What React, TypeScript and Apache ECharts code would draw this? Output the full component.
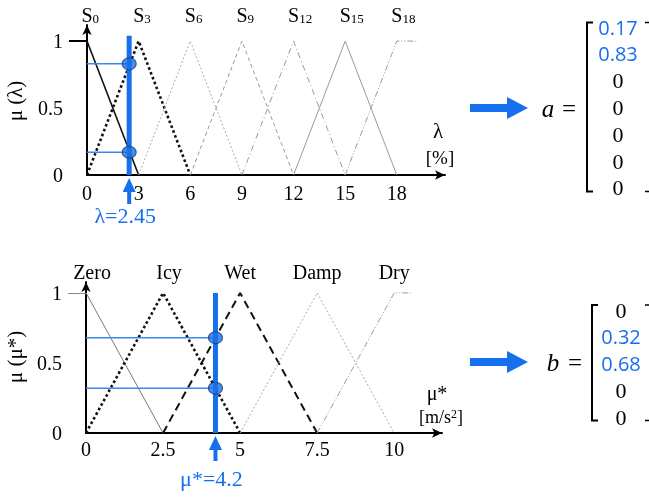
import React, { useEffect, useRef } from 'react';
import * as echarts from 'echarts';

// ---------- data: top chart (lambda) ----------
const lambdaSubscripts = ['0', '3', '6', '9', '12', '15', '18'];
const lambdaCenters = [0, 3, 6, 9, 12, 15, 18];
const lambdaTicks = [0, 3, 6, 9, 12, 15, 18];
const lambdaS0 = [[0, 1], [3, 0]];
const lambdaS3 = [[0, 0], [3, 1], [6, 0]];
const lambdaS6 = [[3, 0], [6, 1], [9, 0]];
const lambdaS9 = [[6, 0], [9, 1], [12, 0]];
const lambdaS12 = [[9, 0], [12, 1], [15, 0]];
const lambdaS15 = [[12, 0], [15, 1], [18, 0]];
const lambdaS18 = [[15, 0], [18, 1], [19.2, 1]];
const lambdaInput = 2.45;
const aVector = [0.17, 0.83, 0, 0, 0, 0, 0];
const aLabels = ['0.17', '0.83', '0', '0', '0', '0', '0'];

// ---------- data: bottom chart (mu*) ----------
const muNames = ['Zero', 'Icy', 'Wet', 'Damp', 'Dry'];
const muCenters = [0, 2.5, 5, 7.5, 10];
const muTicks = [0, 2.5, 5, 7.5, 10];
const muZero = [[0, 1], [2.5, 0]];
const muIcy = [[0, 0], [2.5, 1], [5, 0]];
const muWet = [[2.5, 0], [5, 1], [7.5, 0]];
const muDamp = [[5, 0], [7.5, 1], [10, 0]];
const muDry = [[7.5, 0], [10, 1], [10.55, 1]];
const muInput = 4.2;
const bVector = [0, 0.32, 0.68, 0, 0];
const bLabels = ['0', '0.32', '0.68', '0', '0'];

const yTicks = [0, 0.5, 1];

const BLUE = '#1670EE';
const LIGHTBLUE = '#3F86F0';
const SERIF = '"Liberation Serif", "Times New Roman", serif';
const SANS = '"Open Sans", "Noto Sans", sans-serif';

function memberLine(data: number[][], grid: number, color: string, width: number, type: any) {
  return {
    type: 'line',
    xAxisIndex: grid,
    yAxisIndex: grid,
    data,
    symbol: 'none',
    silent: true,
    clip: false,
    lineStyle: { color, width, type },
    z: 2,
  };
}

function blueSeries(grid: number, input: number, memberships: number[], top: number) {
  const out: any[] = [];
  memberships.forEach((v) => {
    if (v > 0) {
      out.push({
        type: 'line', xAxisIndex: grid, yAxisIndex: grid, symbol: 'none', silent: true,
        data: [[0, v], [input, v]], lineStyle: { color: LIGHTBLUE, width: 1.5 }, z: 3,
      });
    }
  });
  out.push({
    type: 'line', xAxisIndex: grid, yAxisIndex: grid, symbol: 'none', silent: true, clip: false,
    data: [[input, 0], [input, top]], lineStyle: { color: BLUE, width: 5 }, z: 4,
  });
  out.push({
    type: 'scatter', xAxisIndex: grid, yAxisIndex: grid, silent: true,
    data: memberships.filter((v) => v > 0).map((v) => [input, v]),
    symbol: 'circle', symbolSize: [14, 12],
    itemStyle: { color: '#1A6FE6', borderColor: '#173A70', borderWidth: 1 }, z: 5,
  });
  return out;
}

function xAxis(grid: number, max: number, ticks: number[], margin: number) {
  return {
    type: 'value', gridIndex: grid, min: 0, max,
    axisLine: { show: true, symbol: ['none', 'arrow'], symbolSize: [7, 10], lineStyle: { color: '#000', width: 2 } },
    axisTick: { show: false },
    splitLine: { show: false },
    axisLabel: { customValues: ticks, margin, color: '#000', fontFamily: SERIF, fontSize: 20 },
  };
}

function yAxis(grid: number, max: number, tickColor: string, tickWidth: number) {
  return {
    type: 'value', gridIndex: grid, min: 0, max,
    axisLine: { show: true, symbol: ['none', 'arrow'], symbolSize: [7, 10], lineStyle: { color: '#000', width: 2 } },
    axisTick: { show: true, customValues: [1], length: 18, lineStyle: { color: tickColor, width: tickWidth } },
    splitLine: { show: false },
    axisLabel: { customValues: yTicks, margin: 24, color: '#000', fontFamily: SERIF, fontSize: 20 },
  };
}

export default function App() {
  const ref = useRef<HTMLDivElement>(null);
  useEffect(() => {
    const chart = echarts.init(ref.current!, null, { renderer: 'svg' });
    chart.setOption({
      animation: false,
      grid: [
        { left: 87, top: 25, width: 358, height: 150 },
        { left: 86, top: 282, width: 356, height: 151 },
      ],
      xAxis: [xAxis(0, 20.8, lambdaTicks, 8), xAxis(1, 11.55, muTicks, 6)],
      yAxis: [yAxis(0, 1.12, '#000', 2), yAxis(1, 1.078, '#888', 1)],
      series: [
        memberLine(lambdaS0, 0, '#111', 1.6, 'solid'),
        memberLine(lambdaS3, 0, '#111', 2.6, [2.6, 2.6]),
        memberLine(lambdaS6, 0, '#AAA', 1, [2, 2]),
        memberLine(lambdaS9, 0, '#999', 1, [4, 3]),
        memberLine(lambdaS12, 0, '#999', 1, [6, 3, 1, 3]),
        memberLine(lambdaS15, 0, '#999', 1, 'solid'),
        memberLine(lambdaS18, 0, '#999', 1, [6, 2, 1, 2, 1, 2]),
        memberLine(muZero, 1, '#777', 1, 'solid'),
        memberLine(muIcy, 1, '#111', 2.6, [2.6, 2.6]),
        memberLine(muWet, 1, '#111', 2, [8, 5]),
        memberLine(muDamp, 1, '#AAA', 1, [2, 2]),
        memberLine(muDry, 1, '#999', 1, [6, 2, 1, 2, 1, 2]),
        ...blueSeries(0, lambdaInput, aVector.slice(0, 2), 1.04),
        ...blueSeries(1, muInput, bVector.slice(1, 3), 1.0),
      ],
    });

    const px = (g: number, v: number[]) => chart.convertToPixel({ gridIndex: g } as any, v) as number[];
    const g: any[] = [];
    const txt = (x: number, y: number, text: string, size: number, family: string, fill = '#000', style: string = 'normal', rotation = 0) => {
      g.push({
        type: 'text', x, y, rotation,
        style: { text, fontSize: size, fontFamily: family, fontStyle: style, fill, align: 'center', verticalAlign: 'middle' },
      });
    };

    // top set labels S_n
    lambdaCenters.forEach((c, i) => {
      const p = px(0, [c, 0]);
      g.push({
        type: 'text', x: p[0] - 5.5, y: 15,
        style: {
          text: `{s|S}{b|${lambdaSubscripts[i]}}`, align: 'left', verticalAlign: 'middle',
          rich: {
            s: { fontFamily: SERIF, fontSize: 20, fill: '#000', verticalAlign: 'bottom' },
            b: { fontFamily: SERIF, fontSize: 13, fill: '#000', padding: [6, 0, 0, 0], verticalAlign: 'bottom' },
          },
        },
      });
    });
    // bottom set labels
    muCenters.forEach((c, i) => {
      const p = px(1, [c, 0]);
      txt(p[0] + (i < 2 ? 6 : 0), 272, muNames[i], 20, SERIF);
    });

    // y axis names (rotated)
    txt(15, 101, 'μ (λ)', 21, SERIF, '#000', 'normal', Math.PI / 2);
    txt(15, 357, 'μ (μ*)', 21, SERIF, '#000', 'normal', Math.PI / 2);

    // x axis names
    txt(438, 131, 'λ', 21, SERIF);
    txt(440, 157, '[%]', 19, SERIF);
    txt(437, 393, 'μ*', 20, SERIF);
    g.push({
      type: 'text', x: 441, y: 417,
      style: {
        text: '{t|[m/s}{s|2}{t|]}', align: 'center', verticalAlign: 'middle',
        rich: {
          t: { fontFamily: SERIF, fontSize: 18, fill: '#000', verticalAlign: 'bottom' },
          s: { fontFamily: SERIF, fontSize: 12, fill: '#000', verticalAlign: 'bottom', padding: [0, 0, 6, 0] },
        },
      },
    });

    // small input arrows under axes
    const smallArrow = (grid: number, input: number, shaftEnd: number, label: string, labelY: number) => {
      const p = px(grid, [input, 0]);
      const tip = p[1] + 3;
      g.push({ type: 'polygon', shape: { points: [[p[0], tip], [p[0] - 6.5, tip + 14], [p[0] + 6.5, tip + 14]] }, style: { fill: BLUE } });
      g.push({ type: 'line', shape: { x1: p[0], y1: tip + 12, x2: p[0], y2: shaftEnd }, style: { stroke: BLUE, lineWidth: 4 } });
      txt(p[0] - 4, labelY, label, 22, SERIF, BLUE);
    };
    smallArrow(0, lambdaInput, 204, `λ=${lambdaInput}`, 215);
    smallArrow(1, muInput, 461, `μ*=${muInput}`, 478);

    // big arrows
    const bigArrow = (cy: number) => {
      g.push({
        type: 'polygon',
        shape: { points: [[470, cy - 4], [507, cy - 4], [507, cy - 11], [528, cy], [507, cy + 11], [507, cy + 4], [470, cy + 4]] },
        style: { fill: BLUE },
      });
    };
    bigArrow(108);
    bigArrow(362);

    // "a =" and "b ="
    txt(548, 108, 'a', 25, SERIF, '#000', 'italic');
    txt(569, 108, '=', 25, SERIF);
    txt(553, 362, 'b', 25, SERIF, '#000', 'italic');
    txt(575, 362, '=', 25, SERIF);

    // matrices
    const matrix = (left: number, right: number, top: number, bottom: number, cx: number, y0: number, step: number, labels: string[], values: number[]) => {
      g.push({ type: 'polyline', shape: { points: [[left + 6, top], [left, top], [left, bottom], [left + 6, bottom]] }, style: { stroke: '#000', lineWidth: 2, fill: null } });
      g.push({ type: 'polyline', shape: { points: [[right, top], [right + 10, top], [right + 10, bottom], [right, bottom]] }, style: { stroke: '#000', lineWidth: 1.5, fill: null } });
      labels.forEach((l, i) => {
        const hi = values[i] > 0;
        txt(cx, y0 + i * step, l, hi ? 20 : 22, hi ? SANS : SERIF, hi ? BLUE : '#000');
      });
    };
    matrix(587, 645, 22.5, 191.5, 618, 27, 26.8, aLabels, aVector);
    matrix(592, 645, 305, 420.5, 621, 310, 26.8, bLabels, bVector);

    chart.setOption({ graphic: g });
    return () => chart.dispose();
  }, []);
  return <div ref={ref} style={{ position: 'fixed', left: 0, top: 0, width: 649, height: 499 }} />;
}
